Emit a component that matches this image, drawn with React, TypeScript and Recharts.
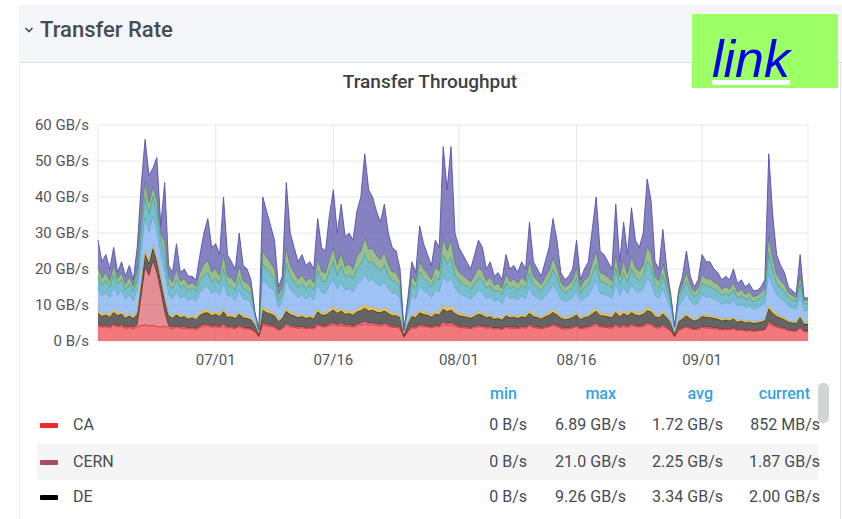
import React from 'react';
import { AreaChart, Area, XAxis, YAxis, CartesianGrid } from 'recharts';

// 12-hour samples starting 06/16
const START = Date.UTC(2022, 5, 16);
const STEP = 12 * 3600 * 1000;

const tickDates = ['07/01', '07/16', '08/01', '08/16', '09/01'];
const yTicks = [0, 10, 20, 30, 40, 50, 60];

// GB/s per site (stack order bottom -> top)
const CA = [
  4.2, 3.8, 4.0, 3.6, 4.4, 3.9, 4.1, 3.5, 3.8, 3.4, 4.0, 4.3, 4.5, 4.2,
  4.3, 4.0, 3.9, 4.1, 3.7, 3.4, 3.9, 3.5, 3.6, 3.3, 3.5, 3.2, 3.8, 4.1,
  4.2, 3.8, 4.0, 3.7, 4.3, 3.6, 3.7, 3.4, 4.0, 3.5, 3.4, 3.2, 2.5, 1.2,
  4.5, 4.2, 4.0, 3.8, 3.0, 3.4, 4.3, 3.9, 3.8, 3.5, 3.7, 3.4, 3.6, 3.3,
  4.4, 4.0, 3.9, 4.3, 4.6, 4.1, 4.4, 4.0, 4.1, 3.9, 4.3, 4.5, 4.8, 4.4,
  4.5, 4.3, 4.2, 4.4, 4.1, 3.8, 3.8, 3.5, 1.0, 2.6, 3.7, 3.5, 4.2, 3.9,
  3.9, 3.6, 4.0, 3.9, 4.6, 4.3, 4.5, 4.1, 3.8, 3.7, 3.6, 3.4, 3.7, 4.0,
  3.9, 3.5, 3.7, 3.3, 3.4, 3.2, 3.8, 3.5, 3.6, 3.4, 3.7, 3.5, 4.2, 3.7,
  3.6, 3.4, 3.7, 3.9, 4.3, 4.0, 3.5, 3.3, 3.4, 3.6, 4.0, 3.3, 3.6, 3.7,
  4.1, 4.4, 3.9, 3.8, 3.7, 3.5, 4.3, 3.7, 4.1, 3.8, 4.3, 4.0, 3.9, 4.0,
  4.5, 4.4, 3.7, 3.5, 4.1, 3.5, 2.8, 1.2, 3.0, 3.4, 3.9, 3.4, 3.1, 3.3,
  3.8, 3.6, 3.6, 3.4, 3.3, 3.1, 3.2, 3.1, 3.4, 2.9, 3.1, 2.8, 2.9, 2.7,
  2.8, 2.9, 3.1, 4.8, 4.2, 3.8, 3.5, 3.3, 2.9, 2.8, 2.7, 3.6, 2.6, 2.6,
];
const CERN = [
  0.4, 0.3, 0.3, 0.4, 0.3, 0.3, 0.4, 0.3, 0.3, 0.4, 0.5, 8, 16, 14,
  18, 15, 10, 4, 0.5, 0.4, 0.3, 0.3, 0.4, 0.3, 0.3, 0.3, 0.4, 0.5,
  0.4, 0.3, 0.4, 0.3, 0.5, 0.3, 0.3, 0.3, 0.4, 0.3, 0.3, 0.3, 0.2, 0.1,
  0.5, 0.4, 0.4, 0.3, 0.2, 0.3, 0.5, 0.4, 0.3, 0.3, 0.3, 0.3, 0.3, 0.3,
  0.4, 0.3, 0.3, 0.4, 0.5, 0.4, 0.5, 0.4, 0.4, 0.3, 0.4, 0.5, 0.6, 0.5,
  0.5, 0.4, 0.4, 0.5, 0.4, 0.3, 0.3, 0.3, 0.1, 0.2, 0.3, 0.3, 0.4, 0.4,
  0.3, 0.3, 0.4, 0.3, 0.6, 0.5, 0.6, 0.4, 0.3, 0.3, 0.3, 0.3, 0.3, 0.4,
  0.3, 0.3, 0.3, 0.3, 0.3, 0.2, 0.3, 0.3, 0.3, 0.3, 0.3, 0.3, 0.4, 0.3,
  0.3, 0.3, 0.3, 0.3, 0.4, 0.3, 0.3, 0.3, 0.3, 0.3, 0.3, 0.3, 0.3, 0.3,
  0.4, 0.5, 0.3, 0.3, 0.3, 0.3, 0.4, 0.3, 0.4, 0.3, 0.4, 0.3, 0.3, 0.4,
  0.5, 0.4, 0.3, 0.3, 0.4, 0.3, 0.2, 0.1, 0.2, 0.3, 0.3, 0.3, 0.2, 0.3,
  0.3, 0.3, 0.3, 0.3, 0.3, 0.2, 0.3, 0.2, 0.3, 0.2, 0.2, 0.2, 0.2, 0.2,
  0.2, 0.2, 0.2, 0.6, 0.4, 0.3, 0.3, 0.3, 0.2, 0.2, 0.2, 0.3, 0.2, 0.2,
];
const DE = [
  3.2, 2.8, 3.0, 2.7, 3.3, 2.9, 3.1, 2.6, 2.9, 2.5, 3.0, 3.4, 3.6, 3.3,
  3.5, 3.2, 3.0, 3.3, 2.8, 2.6, 3.1, 2.7, 2.9, 2.5, 2.7, 2.5, 3.0, 3.2,
  3.3, 3.0, 3.1, 2.9, 3.4, 2.8, 2.8, 2.6, 3.1, 2.7, 2.6, 2.4, 1.8, 0.8,
  3.6, 3.3, 3.2, 3.0, 2.2, 2.6, 3.5, 3.1, 2.9, 2.7, 2.9, 2.6, 2.8, 2.6,
  3.4, 3.0, 3.0, 3.3, 3.6, 3.2, 3.5, 3.1, 3.2, 3.0, 3.4, 3.5, 3.8, 3.5,
  3.6, 3.4, 3.3, 3.5, 3.2, 3.0, 3.0, 2.7, 0.8, 2.0, 2.9, 2.7, 3.3, 3.1,
  3.0, 2.8, 3.2, 3.1, 3.7, 3.4, 3.6, 3.2, 3.0, 2.9, 2.8, 2.7, 2.9, 3.1,
  3.0, 2.7, 2.8, 2.5, 2.6, 2.4, 2.9, 2.7, 2.8, 2.6, 2.8, 2.7, 3.2, 2.8,
  2.7, 2.5, 2.8, 3.0, 3.3, 3.0, 2.6, 2.4, 2.5, 2.7, 3.0, 2.4, 2.7, 2.8,
  3.1, 3.4, 2.9, 2.9, 2.8, 2.7, 3.3, 2.8, 3.2, 2.9, 3.3, 3.0, 2.9, 3.1,
  3.5, 3.3, 2.8, 2.7, 3.1, 2.7, 2.1, 0.9, 2.2, 2.5, 2.9, 2.5, 2.3, 2.4,
  2.8, 2.7, 2.7, 2.6, 2.5, 2.3, 2.4, 2.3, 2.5, 2.2, 2.3, 2.1, 2.2, 2.0,
  2.1, 2.2, 2.3, 3.6, 3.2, 2.8, 2.6, 2.4, 2.2, 2.1, 2.0, 2.7, 1.9, 1.9,
];
const FR = [
  0.7, 0.5, 0.6, 0.5, 0.8, 0.6, 0.7, 0.5, 0.6, 0.5, 0.7, 0.9, 1.0, 0.8,
  0.9, 0.8, 0.7, 0.8, 0.6, 0.5, 0.7, 0.5, 0.6, 0.5, 0.6, 0.5, 0.7, 0.8,
  0.8, 0.6, 0.7, 0.6, 0.9, 0.6, 0.6, 0.5, 0.7, 0.5, 0.5, 0.5, 0.3, 0.2,
  0.9, 0.8, 0.7, 0.6, 0.4, 0.5, 0.9, 0.7, 0.6, 0.5, 0.6, 0.5, 0.6, 0.5,
  0.8, 0.6, 0.6, 0.8, 0.9, 0.7, 0.9, 0.7, 0.7, 0.6, 0.8, 0.9, 1.0, 0.9,
  0.9, 0.8, 0.8, 0.9, 0.7, 0.6, 0.6, 0.5, 0.2, 0.4, 0.6, 0.5, 0.8, 0.7,
  0.6, 0.5, 0.7, 0.6, 1.0, 0.9, 1.0, 0.7, 0.6, 0.6, 0.5, 0.5, 0.6, 0.7,
  0.6, 0.5, 0.6, 0.5, 0.5, 0.4, 0.6, 0.5, 0.5, 0.5, 0.6, 0.5, 0.8, 0.6,
  0.5, 0.5, 0.6, 0.6, 0.8, 0.7, 0.5, 0.4, 0.5, 0.5, 0.7, 0.4, 0.5, 0.6,
  0.7, 0.9, 0.6, 0.6, 0.6, 0.5, 0.8, 0.6, 0.7, 0.6, 0.8, 0.7, 0.6, 0.7,
  0.9, 0.8, 0.6, 0.5, 0.7, 0.5, 0.4, 0.2, 0.4, 0.5, 0.6, 0.5, 0.4, 0.4,
  0.6, 0.5, 0.5, 0.5, 0.5, 0.4, 0.4, 0.4, 0.5, 0.4, 0.4, 0.4, 0.4, 0.3,
  0.3, 0.4, 0.4, 1.0, 0.8, 0.6, 0.5, 0.5, 0.4, 0.3, 0.3, 0.6, 0.3, 0.3,
];
const IT = [
  6, 5, 5.5, 4.8, 6.2, 5, 5.6, 4.6, 5.2, 4.4, 5.8, 8, 9, 8,
  8, 7.5, 6.5, 7, 5.2, 4.8, 5.8, 4.9, 5, 4.6, 4.8, 4.5, 5.6, 6.2,
  6.5, 5.5, 5.8, 5.2, 7, 5.2, 5, 4.6, 6, 4.8, 4.6, 4.2, 2, 0.5,
  7.5, 7, 6.5, 6, 3.5, 4.2, 7.8, 6.2, 5.6, 5, 5.4, 4.8, 5.2, 4.7,
  6.6, 5.6, 5.4, 6.6, 7.4, 6, 7, 5.9, 6.2, 5.8, 6.8, 7.2, 8.2, 7.4,
  7.6, 7, 6.6, 7.2, 6.2, 5.6, 5.5, 4.8, 0.6, 2.6, 5.2, 4.7, 6.5, 5.8,
  5.4, 4.9, 5.9, 5.6, 8, 7.2, 8, 6.2, 5.6, 5.2, 5, 4.7, 5.2, 5.8,
  5.6, 4.8, 5.1, 4.4, 4.6, 4.2, 5.4, 4.8, 4.9, 4.6, 5.1, 4.8, 6.4, 5.2,
  5, 4.6, 5.2, 5.8, 6.8, 6, 4.8, 4.4, 4.6, 5, 6, 4.4, 5, 5.2,
  6.4, 7.4, 5.6, 5.4, 5.2, 4.8, 7, 5.2, 6.6, 5.4, 7, 6, 5.7, 6.2,
  7.8, 7.2, 5.2, 4.8, 6.3, 4.8, 3.6, 1, 3.9, 4.4, 5.6, 4.4, 4, 4.2,
  5.4, 5.1, 5.1, 4.8, 4.6, 4.2, 4.4, 4.2, 4.8, 4, 4.2, 3.8, 4, 3.6,
  3.8, 4, 4.4, 8.5, 6.8, 5.4, 4.9, 4.6, 4, 3.8, 3.6, 5.4, 3.4, 3.4,
];
const NL = [
  3.5, 3, 3.4, 2.8, 3.6, 3, 3.2, 2.7, 3, 2.6, 3.4, 5, 6, 5,
  5.5, 5, 4, 4.5, 3, 2.8, 3.4, 2.9, 3, 2.7, 2.9, 2.6, 3.3, 3.6,
  3.8, 3.2, 3.4, 3.1, 4, 3, 2.9, 2.7, 3.5, 2.8, 2.7, 2.5, 0.8, 0.2,
  4.5, 4.2, 3.8, 3.5, 2, 2.4, 4.6, 3.7, 3.2, 2.9, 3.1, 2.8, 3, 2.8,
  4, 3.3, 3.2, 4, 5, 3.8, 4.6, 3.7, 3.9, 3.6, 4.4, 4.8, 5.6, 5,
  5, 4.5, 4.2, 4.7, 3.8, 3.4, 3.4, 2.9, 0.2, 1.6, 3.2, 2.9, 4, 3.6,
  3.2, 2.9, 3.6, 3.4, 6, 5, 5.5, 3.8, 3.4, 3.2, 3, 2.8, 3.2, 3.6,
  3.4, 2.8, 3, 2.6, 2.7, 2.5, 3.2, 2.8, 2.9, 2.7, 3, 2.8, 3.9, 3.1,
  2.9, 2.7, 3, 3.4, 4.2, 3.6, 2.8, 2.5, 2.7, 2.9, 3.6, 2.5, 2.9, 3,
  3.8, 4.6, 3.3, 3.2, 3.1, 2.8, 4.4, 3.1, 4, 3.2, 4.3, 3.6, 3.4, 3.7,
  5, 4.6, 3.1, 2.8, 3.8, 2.8, 2, 0.4, 2.1, 2.6, 3.4, 2.6, 2.3, 2.5,
  3.2, 3, 3, 2.8, 2.7, 2.4, 2.6, 2.4, 2.8, 2.3, 2.4, 2.2, 2.3, 2.1,
  2.2, 2.3, 2.5, 6, 4.2, 3.2, 2.9, 2.7, 2.3, 2.2, 2.1, 3.2, 2, 2,
];
const UK = [
  2.5, 2, 2.2, 1.8, 2.4, 1.5, 1.8, 1.6, 1.9, 1.4, 2.4, 3.5, 4, 3,
  2.5, 3.5, 1.6, 4, 1.9, 1.8, 2.6, 1.7, 1.8, 1.7, 1.4, 1.5, 2.2, 3,
  3.2, 2.6, 2.6, 2.3, 3.8, 2.4, 2.1, 2, 3, 2.1, 2, 1.6, 0.2, 0.05,
  3.6, 3.3, 3, 2.7, 1.5, 1.7, 4, 2.9, 2.6, 2.2, 2.3, 2.1, 2.1, 2,
  3.2, 2.5, 2.4, 3.3, 3.8, 2.9, 3.5, 2.8, 2.9, 2.8, 3.4, 3.6, 4.5, 3.8,
  3.6, 3.3, 3.1, 3.4, 2.8, 2.5, 2.4, 2, 0.05, 1, 2.1, 1.8, 3, 2.5,
  2.3, 2.1, 2.7, 2.5, 4.5, 3.8, 4.6, 2.9, 2.5, 2.3, 2.1, 2, 2.3, 2.7,
  2.5, 2, 2.2, 1.8, 1.9, 1.7, 2.3, 2, 2.1, 1.9, 2.2, 2, 3.2, 2.1,
  1.9, 1.7, 2.1, 2.5, 3.2, 2.7, 1.8, 1.6, 1.7, 1.9, 2.7, 1.6, 1.9, 2.1,
  3, 3.6, 2.4, 2.3, 2.1, 2, 3.5, 2.1, 3.2, 2.3, 3.4, 2.7, 2.5, 2.9,
  4, 3.6, 2.1, 2, 3, 2, 1, 0.1, 1.1, 1.7, 2.4, 1.7, 1.3, 1.6,
  2.3, 2.1, 2.1, 1.9, 1.9, 1.7, 1.8, 1.7, 2, 1.6, 1.7, 1.5, 1.6, 1.4,
  1.2, 1.4, 1.6, 4.5, 3.2, 2.3, 2.1, 1.9, 1.4, 1.2, 1.1, 2.3, 0.9, 0.9,
];
const US = [
  7.5, 4.6, 5, 3.4, 5, 1.8, 3.1, 2.2, 3.3, 1.8, 6.2, 9.9, 11.9, 7.7,
  5.3, 12, 2.3, 16.3, 3.3, 2.7, 7.2, 2.5, 2.7, 2.4, 1.8, 1.9, 5, 8.6,
  11.8, 7, 7, 5.9, 16.1, 6.1, 4.6, 3.9, 9.3, 4.3, 3.9, 2.3, 0.2, 0.05,
  14.9, 12.8, 10.4, 8.1, 2.2, 2.9, 18.4, 9.1, 7, 4.9, 5.7, 4.5, 4.4, 3.8,
  11.2, 6.7, 6.2, 12.3, 16.2, 8.9, 13.6, 8.4, 8.6, 8, 12.5, 15, 23.5, 16.5,
  14.3, 12.3, 10.4, 13.4, 8.8, 6.8, 6, 3.3, 0.05, 1.6, 4, 2.6, 9.8, 7,
  5.3, 3.9, 7.5, 6.6, 25.6, 16.9, 26.2, 8.7, 6.8, 5.8, 4.7, 3.6, 5.8, 7.7,
  6.7, 3.4, 4.3, 2.6, 3, 2.4, 5.5, 3.4, 3.9, 3, 4.3, 3.4, 10.9, 4.2,
  3.1, 2.3, 4.3, 6.5, 11, 7.7, 2.7, 2.1, 2.3, 3.1, 7.7, 2.1, 3.1, 4.3,
  9.5, 15.2, 6, 5.5, 4.2, 3.4, 14.3, 4.2, 10.8, 5.5, 13.5, 7.7, 6.7, 9,
  18.8, 14.7, 4.2, 3.4, 9.6, 3.4, 0.9, 0.1, 1.1, 2.6, 5.9, 2.6, 1.4, 2.3,
  5.6, 4.7, 4.7, 3.7, 3.2, 2.7, 2.9, 2.7, 3.7, 2.4, 2.7, 2, 2.4, 1.7,
  1.4, 1.6, 2.5, 23, 12.2, 5.6, 4.2, 3.3, 1.6, 1.4, 1, 5.9, 0.7, 0.7,
];

const seriesNames = ['CA', 'CERN', 'DE', 'FR', 'IT', 'NL', 'UK', 'US'];
const seriesValues = [CA, CERN, DE, FR, IT, NL, UK, US];
const seriesColors = ['#E8262C', '#D2424F', '#1a1a1a', '#E5B52A', '#7FAEF0', '#3EA3B8', '#6FA35E', '#5552A8'];
const seriesOpacity = [0.62, 0.6, 0.68, 0.8, 0.75, 0.7, 0.7, 0.72];

// legend table
const legendNames = ['CA', 'CERN', 'DE'];
const legendColors = ['#EE2A2D', '#A84D5C', '#000000'];
const legendMin = ['0 B/s', '0 B/s', '0 B/s'];
const legendMax = ['6.89 GB/s', '21.0 GB/s', '9.26 GB/s'];
const legendAvg = ['1.72 GB/s', '2.25 GB/s', '3.34 GB/s'];
const legendCurrent = ['852 MB/s', '1.87 GB/s', '2.00 GB/s'];

const toTs = (md: string) => {
  const [m, d] = md.split('/').map(Number);
  return Date.UTC(2022, m - 1, d);
};
const xTicks = tickDates.map(toTs);

const data = CA.map((_, i) => {
  const row: Record<string, number> = { t: START + i * STEP };
  seriesNames.forEach((n, k) => {
    row[n] = seriesValues[k][i];
  });
  return row;
});
const END = START + (CA.length - 1) * STEP;

const fmtDate = (v: number) => {
  const d = new Date(v);
  const mm = String(d.getUTCMonth() + 1).padStart(2, '0');
  const dd = String(d.getUTCDate()).padStart(2, '0');
  return `${mm}/${dd}`;
};

const FONT = 'Roboto, "Open Sans", sans-serif';
const TEXT = '#464c54';

const App: React.FC = () => {
  const cols = [
    { right: 315, vals: legendMin, head: 'min' },
    { right: 216, vals: legendMax, head: 'max' },
    { right: 119, vals: legendAvg, head: 'avg' },
    { right: 22, vals: legendCurrent, head: 'current' },
  ];
  return <div style={{
    position: 'absolute',
    left: 0,
    top: 0,
    width: 842,
    height: 519,
    background: '#fff',
    overflow: 'hidden',
    fontFamily: FONT
  }}>
      {/* row header */}
      <div style={{
      position: 'absolute',
      left: 19,
      top: 5,
      width: 823,
      height: 57,
      background: '#F5F6F9',
      borderBottom: '1px solid #DCDEE3'
    }} />
      <svg style={{ position: 'absolute', left: 24, top: 26 }} width={10} height={8}>
        <polyline points="1.5,2 5,5.5 8.5,2" fill="none" stroke="#464c54" strokeWidth={1.6} />
      </svg>
      <div style={{
      position: 'absolute',
      left: 40,
      top: 16,
      fontSize: 22,
      fontWeight: 500,
      color: TEXT,
      lineHeight: '28px'
    }}>Transfer Rate</div>

      {/* panel */}
      <div style={{
      position: 'absolute',
      left: 19,
      top: 63,
      width: 820,
      height: 460,
      borderLeft: '1px solid #EDEEF1',
      borderRight: '1px solid #E3E4E8'
    }} />
      <div style={{
      position: 'absolute',
      left: 0,
      width: 860,
      top: 70,
      textAlign: 'center',
      fontSize: 19,
      fontWeight: 500,
      color: '#3d4047',
      lineHeight: '24px'
    }}>Transfer Throughput</div>

      <div style={{ position: 'absolute', left: 0, top: 110 }}>
        <AreaChart width={820} height={262} data={data} margin={{ top: 15, right: 12, bottom: 0, left: 0 }}>
          <CartesianGrid stroke="#E6E7EA" strokeWidth={1} />
          <XAxis dataKey="t" type="number" scale="time" domain={[START, END]} ticks={xTicks} tickFormatter={fmtDate} axisLine={false} tickLine={false} tickSize={0} tickMargin={13} height={31} interval={0} tick={{ fill: '#52555c', fontSize: 15, fontFamily: FONT }} />
          <YAxis domain={[0, 60]} ticks={yTicks} tickFormatter={(v: number) => v === 0 ? '0 B/s' : `${v} GB/s`} width={98} axisLine={false} tickLine={false} tickSize={0} tickMargin={9} allowDataOverflow tick={{ fill: '#52555c', fontSize: 15, fontFamily: FONT }} />
          {seriesNames.map((n, k) => <Area key={n} type="linear" dataKey={n} stackId="1" stroke={seriesColors[k]} strokeWidth={1} strokeOpacity={0.9} fill={seriesColors[k]} fillOpacity={seriesOpacity[k]} dot={false} activeDot={false} isAnimationActive={false} />)}
        </AreaChart>
      </div>

      {/* legend table */}
      {cols.map(c => <div key={c.head} style={{
      position: 'absolute',
      right: c.right + 10,
      top: 384,
      fontSize: 16,
      fontWeight: 500,
      color: '#33A2E5',
      lineHeight: '20px'
    }}>{c.head}</div>)}
      <div style={{
      position: 'absolute',
      left: 818,
      top: 383,
      width: 11,
      height: 40,
      borderRadius: 5,
      background: '#D3D4D6'
    }} />
      {legendNames.map((n, r) => {
      const cy = [425, 462, 497][r];
      return <React.Fragment key={n}>
            {r === 1 && <div style={{
          position: 'absolute',
          left: 37,
          top: 444,
          width: 781,
          height: 36,
          background: '#F5F5F6'
        }} />}
            <div style={{
          position: 'absolute',
          left: 40,
          top: cy - 2,
          width: 18,
          height: 5,
          borderRadius: 1,
          background: legendColors[r]
        }} />
            <div style={{
          position: 'absolute',
          left: 73,
          top: cy - 11,
          fontSize: 16,
          color: TEXT,
          lineHeight: '22px'
        }}>{n}</div>
            {cols.map(c => <div key={c.head} style={{
          position: 'absolute',
          right: c.right,
          top: cy - 11,
          fontSize: 16,
          color: TEXT,
          lineHeight: '22px',
          whiteSpace: 'nowrap'
        }}>{c.vals[r]}</div>)}
          </React.Fragment>;
    })}

      {/* link badge */}
      <div style={{
      position: 'absolute',
      left: 692,
      top: 14,
      width: 146,
      height: 74,
      background: '#9CFF66'
    }}>
        <a href="#" style={{
        position: 'absolute',
        left: 20,
        top: 19,
        fontFamily: '"Liberation Sans", Arial, sans-serif',
        fontStyle: 'italic',
        fontSize: 52,
        color: '#0000EE',
        textDecorationColor: '#ffffff',
        lineHeight: '52px'
      }}>link</a>
      </div>
    </div>;
};

export default App;
